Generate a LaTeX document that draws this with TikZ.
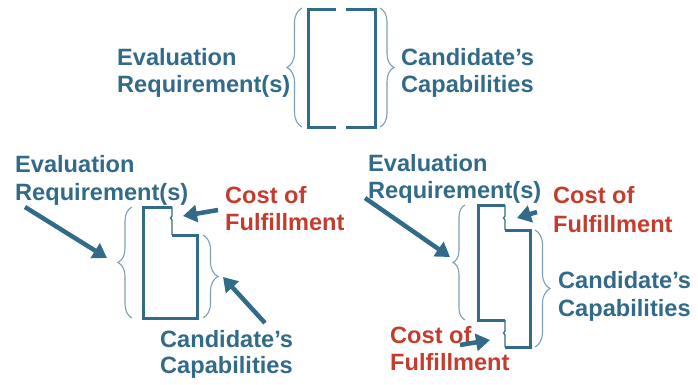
\documentclass[tikz,border=0pt]{standalone}
\usepackage{fontspec}
\setmainfont{Liberation Sans}
\usetikzlibrary{arrows.meta,decorations.pathreplacing}
\definecolor{tblue}{RGB}{50,106,138}
\definecolor{tred}{RGB}{196,60,46}
\definecolor{bblue}{RGB}{125,158,180}
\begin{document}
\begin{tikzpicture}[x=1pt,y=-1pt,
 lbl/.style={anchor=base west,inner sep=0pt,font=\fontsize{23.6}{27}\selectfont\bfseries,text=tblue},
 rlbl/.style={lbl,text=tred},
 brc/.style={draw=bblue,line width=1.1pt,decorate,decoration={brace,amplitude=#1}},
 outl/.style={draw=tblue,line width=3pt,line join=miter},
 thinl/.style={draw=tblue,line width=1.3pt},
 arr/.style={draw=tblue,line width=4.5pt,-{Triangle[length=14pt,width=17pt]}}]
\useasboundingbox (0,0) rectangle (698,384);

% ---------- top diagram ----------
\node[lbl] (te1) at (117,65) {Evaluation};
\node[lbl] (te2) at (117,92) {Requirement(s)};
\node[lbl] (tc1) at (401,65) {Candidate’s};
\node[lbl] (tc2) at (401,92) {Capabilities};
\draw[brc=15pt] (302,127) -- (302,8);
\draw[brc=14pt] (380,8) -- (380,127);
\draw[outl] (336,9) -- (308,9) -- (308,127) -- (336,127);
\draw[outl] (346,9) -- (375,9) -- (375,127) -- (346,127);

% ---------- bottom-left diagram ----------
\node[lbl] (le1) at (15,172) {Evaluation};
\node[lbl] (le2) at (15,200) {Requirement(s)};
\node[rlbl] (lf1) at (225,203) {Cost of};
\node[rlbl] (lf2) at (225,230) {Fulfillment};
\node[lbl] (lc1) at (160,347) {Candidate’s};
\node[lbl] (lc2) at (160,373) {Capabilities};
\draw[brc=14pt] (132,318) -- (132,207);
\draw[brc=15pt] (203,235) -- (203,318);
\draw[thinl] (172,207) -- (172,216) -- (170.5,218) -- (172,220) -- (172,235);
\draw[outl] (172,207) -- (143,207) -- (143,318) -- (197,318) -- (197,235) -- (172,235);
\coordinate (la1s) at (25,207);   \coordinate (la1e) at (107,258);
\coordinate (la2s) at (218,210);  \coordinate (la2e) at (183,216);
\coordinate (la3s) at (265,323);  \coordinate (la3e) at (223,277);
\draw[arr] (la1s) -- (la1e);
\draw[arr] (la2s) -- (la2e);
\draw[arr] (la3s) -- (la3e);

% ---------- bottom-right diagram ----------
\node[lbl] (re1) at (368,171) {Evaluation};
\node[lbl] (re2) at (368,198) {Requirement(s)};
\node[rlbl] (rf1) at (553,203) {Cost of};
\node[rlbl] (rf2) at (553,232) {Fulfillment};
\node[lbl] (rc1) at (558,288) {Candidate’s};
\node[lbl] (rc2) at (558,316) {Capabilities};
\node[rlbl] (rg1) at (390,343) {Cost of};
\node[rlbl] (rg2) at (390,370) {Fulfillment};
\draw[brc=12pt] (465,320) -- (465,205);
\draw[brc=15pt] (535,230) -- (535,347);
\draw[thinl] (505,205) -- (505,216) -- (503.5,218) -- (505,220) -- (505,230);
\draw[thinl] (505,320) -- (505,331) -- (503.5,333) -- (505,335) -- (505,347);
\draw[outl] (505,205) -- (478,205) -- (478,320) -- (505,320);
\draw[outl] (505,230) -- (530,230) -- (530,347) -- (505,347);
\coordinate (ra1s) at (365,198);  \coordinate (ra1e) at (450,257);
\coordinate (ra2s) at (537,212);  \coordinate (ra2e) at (517,218);
\coordinate (ra3s) at (460,345);  \coordinate (ra3e) at (490,340);
\draw[arr] (ra1s) -- (ra1e);
\draw[arr] (ra2s) -- (ra2e);
\draw[arr] (ra3s) -- (ra3e);
\end{tikzpicture}
\end{document}
